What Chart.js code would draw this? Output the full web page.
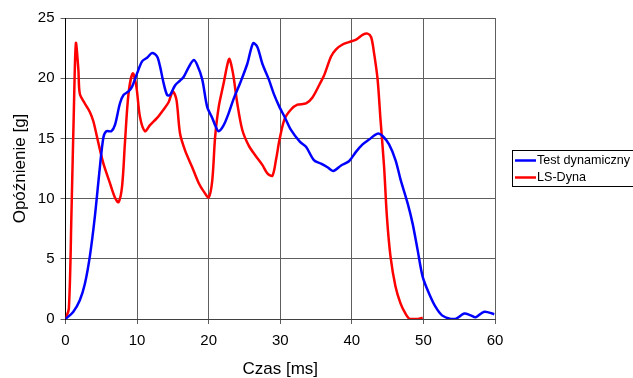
<!DOCTYPE html>
<html>
<head>
<meta charset="utf-8">
<script src="https://cdn.jsdelivr.net/npm/chart.js@4/dist/chart.umd.min.js"></script>
<style>
  html, body { margin: 0; padding: 0; background: #fff; }
  #wrap { width: 633px; height: 378px; position: relative; }
</style>
</head>
<body>
<div id="wrap"><canvas id="c" width="633" height="378"></canvas></div>
<script>
// Deceleration measured in the dynamic test vs. LS-Dyna simulation
const seriesNames = ['Test dynamiczny', 'LS-Dyna'];

const testTime = [0, 1.07, 2.0, 2.7, 3.4, 4.1, 4.8, 5.3, 5.7, 6.4, 6.9, 7.6, 8.1, 8.8, 9.3, 10.0, 10.7, 11.4, 12.1, 12.8, 13.2, 13.7, 14.2, 14.6, 15.3, 16.0, 16.5, 17.2, 17.9, 18.4, 19.1, 19.8, 20.5, 20.9, 21.4, 22.1, 22.8, 23.5, 24.4, 25.4, 26.2, 26.8, 27.5, 28.4, 29.1, 29.9, 30.6, 31.5, 32.7, 33.6, 34.7, 35.7, 36.6, 37.4, 38.5, 39.6, 40.6, 41.5, 42.4, 43.6, 44.3, 45.2, 46.1, 46.8, 47.8, 48.5, 49.2, 49.9, 50.8, 51.7, 52.6, 53.8, 54.5, 55.7, 56.6, 57.3, 58.5, 59.9];
const testValues = [0, 0.58, 1.55, 2.9, 5.2, 8.5, 12.6, 15.1, 15.6, 15.6, 16.1, 17.9, 18.6, 18.9, 19.3, 20.4, 21.4, 21.7, 22.1, 21.8, 21.0, 19.6, 18.6, 18.6, 19.4, 19.8, 20.1, 20.9, 21.5, 21.1, 19.9, 17.6, 16.7, 16.1, 15.6, 16.1, 17.1, 18.3, 19.6, 21.2, 22.9, 22.6, 21.2, 19.9, 18.7, 17.6, 16.8, 15.7, 14.75, 14.3, 13.2, 12.9, 12.6, 12.3, 12.75, 13.1, 13.9, 14.5, 14.9, 15.4, 15.2, 14.5, 13.2, 11.6, 9.6, 7.9, 5.7, 3.5, 2.1, 1.0, 0.3, 0, 0, 0.45, 0.3, 0.15, 0.6, 0.4];

const simTime = [0, 0.47, 0.84, 1.17, 1.45, 1.8, 2.0, 2.7, 3.4, 3.9, 4.6, 5.3, 6.2, 6.9, 7.4, 7.9, 8.3, 8.8, 9.4, 9.9, 10.4, 11.1, 11.8, 12.8, 13.7, 14.4, 15.0, 15.5, 16.0, 16.7, 17.7, 18.6, 19.3, 20.0, 20.5, 20.9, 21.4, 22.1, 22.6, 22.9, 23.4, 24.0, 24.7, 25.6, 26.5, 27.5, 28.2, 28.9, 29.4, 29.9, 30.6, 31.5, 32.4, 33.6, 34.5, 35.5, 36.1, 37.1, 37.8, 38.7, 39.6, 40.6, 41.5, 42.2, 42.7, 43.1, 43.6, 44.0, 44.5, 44.9, 45.4, 46.1, 46.8, 47.5, 48.1, 49.2, 49.9];
const simValues = [0, 0.86, 9.0, 17.4, 22.9, 20.7, 18.7, 17.9, 17.2, 16.4, 14.6, 12.9, 11.3, 10.1, 9.7, 11.0, 14.6, 18.7, 20.4, 19.3, 16.8, 15.6, 16.1, 16.7, 17.4, 18.0, 18.9, 18.2, 15.4, 14.0, 12.6, 11.3, 10.6, 10.1, 11.5, 15.1, 17.6, 19.6, 21.1, 21.6, 20.4, 17.9, 15.7, 14.4, 13.6, 12.8, 12.1, 11.9, 13.2, 14.9, 16.6, 17.4, 17.8, 17.9, 18.4, 19.5, 20.2, 21.8, 22.4, 22.8, 23.0, 23.2, 23.6, 23.7, 23.4, 22.1, 19.9, 16.6, 12.7, 8.5, 5.2, 2.7, 1.3, 0.44, 0, 0, 0.1];

const xTicks = [0, 10, 20, 30, 40, 50, 60];
const yTicks = [0, 5, 10, 15, 20, 25];

const toPoints = (xs, ys) => xs.map((x, i) => ({ x: x, y: ys[i] }));

const font = '"Liberation Sans", Arial, sans-serif';

// Boxed legend with line samples, drawn to the right of the plot
const boxLegend = {
  id: 'boxLegend',
  afterDraw(chart) {
    const ctx = chart.ctx;
    const x0 = 512, y0 = 150, w = 125, h = 36;
    ctx.save();
    ctx.strokeStyle = '#000';
    ctx.lineWidth = 1;
    ctx.strokeRect(x0 + 0.5, y0 + 0.5, w, h);
    ctx.font = '12.6px ' + font;
    ctx.textBaseline = 'middle';
    chart.data.datasets.forEach((ds, i) => {
      const ly = y0 + 10.5 + i * 17;
      ctx.strokeStyle = ds.borderColor;
      ctx.lineWidth = 2.5;
      ctx.beginPath();
      ctx.moveTo(x0 + 3, ly);
      ctx.lineTo(x0 + 24, ly);
      ctx.stroke();
      ctx.fillStyle = '#000';
      ctx.fillText(ds.label, x0 + 25, ly);
    });
    ctx.restore();
  }
};

new Chart(document.getElementById('c'), {
  type: 'line',
  data: {
    datasets: [
      { label: seriesNames[0], data: toPoints(testTime, testValues), borderColor: '#0000FF', borderWidth: 2.5, pointRadius: 0, tension: 0.3, fill: false },
      { label: seriesNames[1], data: toPoints(simTime, simValues), borderColor: '#FF0000', borderWidth: 2.5, pointRadius: 0, tension: 0.3, fill: false }
    ]
  },
  options: {
    responsive: false,
    animation: false,
    layout: { padding: { left: 10, right: 138, top: 18, bottom: 0 } },
    plugins: { legend: { display: false }, tooltip: { enabled: false } },
    scales: {
      x: {
        type: 'linear',
        min: 0, max: 60,
        afterBuildTicks: (axis) => { axis.ticks = xTicks.map(v => ({ value: v })); },
        afterFit: (axis) => { axis.height = 59; },
        grid: { color: '#5e5e5e', lineWidth: 1, tickLength: 5, drawTicks: true },
        border: { color: '#404040', width: 1 },
        ticks: { color: '#000', font: { family: font, size: 15 }, padding: 8, maxRotation: 0 },
        title: { display: true, text: 'Czas [ms]', color: '#000', font: { family: font, size: 17, lineHeight: 1 }, padding: { top: 0, bottom: 0 } }
      },
      y: {
        min: 0, max: 25,
        afterBuildTicks: (axis) => { axis.ticks = yTicks.map(v => ({ value: v })); },
        afterFit: (axis) => { axis.width = 55.5; },
        grid: { color: '#5e5e5e', lineWidth: 1, tickLength: 5 },
        border: { color: '#000', width: 1 },
        ticks: { color: '#000', font: { family: font, size: 15 }, padding: 6 },
        title: { display: true, text: 'Opóźnienie [g]', color: '#000', font: { family: font, size: 17 }, padding: { top: 0, bottom: 0 } }
      }
    }
  },
  plugins: [boxLegend]
});
</script>
</body>
</html>
